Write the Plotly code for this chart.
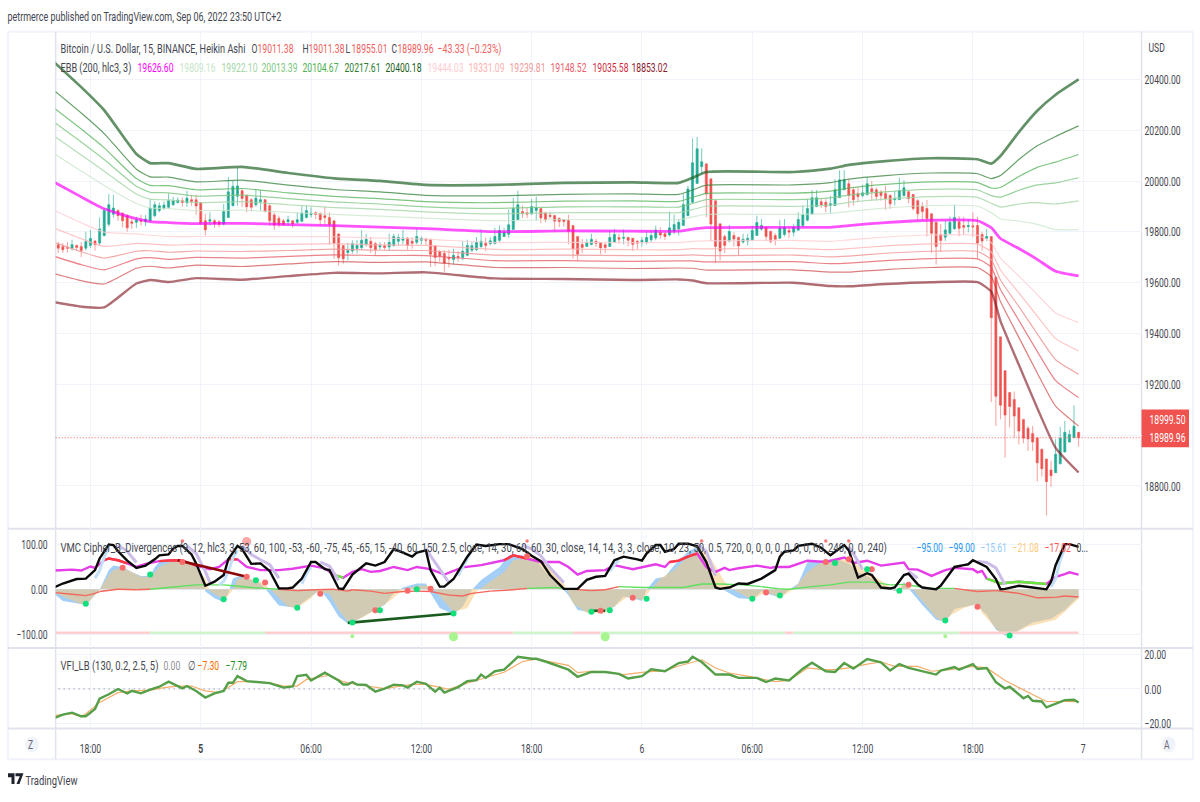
import json
import pandas as pd
import plotly.graph_objects as go

# Chart window in page pixels
W, H = 1200, 802
PLOT_L, PLOT_R = 54.7, 1141.5
START = pd.Timestamp("2022-09-04 16:15")
BAR = pd.Timedelta(minutes=15)

# Heikin Ashi candles, BTCUSD 15m
opens = [19750,19743,19739,19736,19747,19743,19736,19747,19764,19756,
19786,19830,19870,19884,19874,19864,19840,19838,19847,19840,
19844,19864,19884,19893,19897,19907,19916,19923,19915,19927,
19927,19915,19844,19842,19844,19840,19831,19857,19903,19940,
19962,19942,19927,19907,19919,19927,19903,19867,19854,19844,
19840,19844,19838,19842,19857,19868,19876,19873,19864,19857,
19844,19792,19747,19719,19725,19735,19738,19750,19763,19754,
19741,19746,19741,19747,19763,19767,19776,19763,19759,19767,
19772,19771,19745,19721,19716,19699,19691,19704,19699,19708,
19728,19730,19742,19755,19754,19754,19767,19782,19791,19810,
19849,19880,19876,19871,19884,19892,19875,19866,19865,19853,
19849,19845,19825,19782,19751,19743,19751,19763,19758,19750,
19743,19759,19778,19775,19778,19775,19763,19759,19759,19769,
19776,19798,19793,19788,19803,19812,19825,19864,19917,19991,
20057,20068,20009,19923,19832,19782,19764,19786,19778,19760,
19764,19767,19786,19811,19818,19802,19786,19775,19790,19806,
19799,19807,19825,19846,19871,19900,19919,19917,19905,19904,
19935,19966,19990,19966,19951,19943,19947,19970,19966,19956,
19951,19943,19927,19927,19943,19958,19947,19923,19900,19892,
19872,19838,19790,19779,19795,19813,19840,19825,19821,19824,
19825,19790,19775,19782,19622,19387,19254,19168,19140,19108,
19062,19027,19007,18990,18945,18906,18863,18852,18887,18934,
18973,18990,19011.38]
highs = [19760,19756,19760,19769,19750,19760,19801,19808,19769,19857,
19894,19949,19946,19890,19877,19870,19860,19860,19868,19867,
19928,19920,19916,19920,19951,19938,19936,19936,19962,19946,
19946,19916,19870,19877,19851,19847,19910,20017,20001,20052,
19968,19949,19933,19968,19964,19929,19910,19877,19864,19851,
19864,19847,19877,19903,19903,19897,19881,19877,19899,19877,
19844,19795,19747,19757,19767,19769,19806,19793,19780,19760,
19760,19760,19793,19793,19793,19808,19780,19780,19812,19782,
19777,19771,19747,19730,19728,19730,19734,19725,19763,19769,
19760,19780,19810,19777,19780,19816,19825,19816,19888,19934,
19962,19904,19894,19930,19939,19892,19880,19880,19865,19858,
19851,19868,19825,19782,19773,19773,19793,19773,19760,19760,
19806,19812,19793,19810,19782,19777,19769,19780,19803,19806,
19825,19819,19799,19880,19868,19851,19952,19982,20168,20174,
20129,20068,20009,19923,19832,19790,19828,19799,19782,19793,
19793,19825,19864,19851,19818,19806,19795,19847,19851,19819,
19832,19878,19904,19930,19965,19965,19930,19930,19943,20008,
20043,20043,20008,19975,19975,19986,20017,19999,19975,19965,
19982,19949,19962,20014,20004,19962,19949,19930,19917,19926,
19872,19838,19831,19845,19861,19907,19862,19860,19850,19877,
19860,19800,19812,19782,19622,19387,19254,19168,19172,19108,
19062,19036,19036,18990,18945,18906,18899,18984,19033,19056,
19020,19117,19011.38]
lows = [19717,19717,19718,19727,19727,19701,19727,19737,19727,19747,
19782,19821,19857,19844,19818,19801,19812,19816,19825,19822,
19838,19857,19877,19887,19890,19903,19912,19899,19899,19903,
19868,19827,19786,19825,19816,19818,19825,19857,19903,19903,
19899,19877,19881,19899,19884,19877,19825,19808,19818,19825,
19825,19816,19831,19838,19853,19857,19851,19825,19825,19750,
19694,19668,19675,19688,19715,19715,19730,19743,19717,19708,
19730,19730,19725,19741,19747,19751,19730,19734,19751,19751,
19747,19662,19665,19682,19643,19660,19673,19682,19688,19704,
19721,19725,19738,19725,19747,19751,19760,19780,19777,19810,
19848,19855,19855,19868,19845,19834,19838,19851,19806,19819,
19821,19751,19695,19688,19717,19741,19747,19741,19712,19717,
19741,19756,19754,19751,19743,19725,19730,19743,19751,19760,
19767,19773,19769,19782,19790,19786,19825,19864,19913,19991,
20027,19858,19764,19679,19688,19717,19759,19743,19708,19754,
19747,19767,19786,19806,19763,19754,19747,19773,19782,19776,
19782,19806,19821,19842,19868,19897,19894,19877,19874,19904,
19934,19965,19897,19904,19921,19936,19943,19923,19923,19923,
19887,19891,19904,19926,19939,19913,19884,19848,19848,19782,
19717,19672,19721,19764,19790,19808,19783,19790,19798,19780,
19695,19727,19764,19130,19036,19063,18911,19030,18990,18964,
18968,18938,18938,18817,18837,18684,18797,18851,18886,18932,
18971,18989,18955.01]
closes = [19736,19730,19736,19750,19739,19727,19762,19774,19750,19812,
19884,19907,19894,19864,19844,19816,19834,19848,19842,19851,
19893,19907,19903,19906,19923,19923,19925,19916,19933,19920,
19902,19835,19808,19848,19831,19829,19880,19958,19979,19981,
19932,19899,19897,19933,19927,19881,19844,19827,19829,19829,
19848,19831,19848,19874,19884,19874,19869,19848,19857,19829,
19756,19698,19694,19727,19754,19747,19767,19771,19738,19730,
19747,19739,19759,19782,19778,19776,19747,19755,19782,19775,
19767,19712,19699,19704,19678,19694,19708,19700,19724,19747,
19746,19759,19763,19747,19765,19782,19806,19799,19828,19893,
19907,19872,19870,19900,19896,19855,19849,19861,19842,19841,
19841,19803,19734,19712,19739,19759,19771,19755,19737,19739,
19778,19790,19771,19778,19767,19751,19755,19767,19778,19786,
19807,19788,19782,19816,19829,19838,19908,19969,20072,20127,
20076,19949,19831,19743,19725,19747,19802,19772,19745,19771,
19775,19806,19837,19825,19782,19763,19771,19815,19818,19799,
19818,19849,19868,19892,19935,19935,19907,19900,19911,19966,
20005,20005,19943,19927,19939,19954,19990,19958,19939,19943,
19931,19911,19932,19962,19974,19931,19892,19872,19880,19853,
19795,19743,19766,19808,19838,19857,19814,19818,19825,19820,
19756,19764,19782,19462,19153,19118,19079,19113,19075,19016,
18988,18985,18973,18891,18868,18817,18840,18925,18988,19011,
19003,19035,18989.96]

# EBB (200, hlc3, 3): bar numbers where each band was read, then the bands
ebb_bars = [-1,5,10,17,20,24,30,40,50,60,70,80,95,110,125,135,138,141,160,168,172,180,190,200,203,205,209,213,217,222]
ebb_basis = [19997,19938,19891,19852,19841,19837,19833,19834,19829,19825,19819,19813,19801,19804,19803,19803,19811,19817,19818,19818,19825,19837,19846,19844,19817,19774,19735,19692,19645,19626.60]
ebb_up1 = [20109,20040,19983,19912,19895,19892,19884,19886,19877,19869,19862,19854,19844,19849,19848,19848,19859,19869,19869,19873,19881,19894,19904,19901,19876,19851,19843,19830,19809,19809.16]
ebb_up2 = [20178,20103,20039,19949,19929,19926,19915,19919,19907,19896,19889,19879,19871,19876,19876,19876,19888,19901,19901,19906,19916,19929,19939,19936,19913,19898,19910,19915,19910,19922.10]
ebb_up3 = [20234,20154,20085,19980,19956,19954,19941,19945,19931,19918,19910,19899,19893,19899,19899,19898,19912,19927,19927,19934,19945,19958,19968,19965,19943,19937,19964,19985,19993,20013.39]
ebb_up4 = [20289,20205,20131,20010,19983,19982,19966,19971,19954,19940,19931,19919,19915,19921,19922,19920,19936,19952,19953,19961,19973,19987,19997,19994,19973,19975,20018,20054,20075,20104.67]
ebb_up5 = [20358,20268,20187,20047,20017,20016,19997,20004,19984,19967,19958,19944,19942,19948,19950,19948,19965,19984,19985,19994,20008,20022,20032,20029,20010,20022,20085,20139,20176,20217.61]
ebb_up6 = [20470,20370,20279,20107,20071,20071,20048,20056,20032,20011,20001,19985,19985,19993,19995,19993,20013,20036,20036,20049,20064,20079,20090,20086,20069,20099,20193,20277,20340,20400.18]
ebb_lo1 = [19885,19836,19799,19792,19787,19782,19782,19782,19781,19781,19776,19772,19758,19759,19758,19758,19763,19765,19767,19763,19769,19780,19788,19787,19758,19697,19627,19554,19481,19444.03]
ebb_lo2 = [19816,19773,19743,19755,19753,19748,19751,19749,19751,19754,19749,19747,19731,19732,19730,19730,19734,19733,19735,19730,19734,19745,19753,19752,19721,19650,19560,19469,19380,19331.09]
ebb_lo3 = [19760,19722,19697,19724,19726,19720,19725,19723,19727,19732,19728,19727,19709,19709,19707,19708,19710,19707,19709,19702,19705,19716,19724,19723,19691,19611,19506,19399,19297,19239.81]
ebb_lo4 = [19705,19671,19651,19694,19699,19692,19700,19697,19704,19710,19707,19707,19687,19687,19684,19686,19686,19682,19683,19675,19677,19687,19695,19694,19661,19573,19452,19330,19215,19148.52]
ebb_lo5 = [19636,19608,19595,19657,19665,19658,19669,19664,19674,19683,19680,19682,19660,19660,19656,19658,19657,19650,19651,19642,19642,19652,19660,19659,19624,19526,19385,19245,19114,19035.58]
ebb_lo6 = [19524,19506,19503,19597,19611,19603,19618,19612,19626,19639,19637,19641,19617,19615,19611,19613,19609,19598,19600,19587,19586,19595,19602,19602,19565,19449,19277,19107,18950,18853.02]

# VMC Cipher wave 1
wt1_bars = [-1,1,4,6,7,9,10,11,12,14,16,18,20,21,22,25,27,30,31,32,34,36,37,38,40,42,44,45,47,48,52,53,56,57,59,61,63,64,67,71,73,75,78,80,81,83,86,88,90,92,96,98,101,104,106,109,111,113,116,119,121,123,125,127,128,130,132,134,137,139,141,143,146,148,151,153,157,159,161,163,167,169,172,174,177,180,183,184,185,188,191,193,195,200,201,202,204,206,207,212,216,219,222]
wt1_vals = [-9,-26,-31,-35,-24,-1,21,43,53,50,39,30,30,50,61,65,65,58,39,-5,-20,-29,-9,24,32,21,13,2,-24,-36,-42,-31,-9,-1,-27,-61,-77,-74,-57,-35,-9,4,13,13,-9,-42,-56,-39,-1,21,50,76,76,65,39,10,-13,-46,-52,-48,-39,-16,-20,-26,-1,24,28,54,84,95,65,10,-9,-20,-22,-5,-19,-1,13,61,65,69,58,39,24,0,-5,17,2,-35,-68,-73,-44,-33,-48,-57,-90,-103,-103,-74,-66,-46,-15.61]

# VMC Cipher wave 2
wt2_bars = [-1,1,4,6,7,9,11,12,14,16,18,20,22,25,27,30,32,33,35,36,38,39,41,44,46,48,50,52,55,56,59,61,63,64,66,69,72,75,78,81,83,86,89,91,93,97,99,103,106,110,112,115,119,122,124,127,129,131,134,137,140,142,145,147,151,154,157,160,163,166,170,173,176,180,182,184,186,189,191,193,194,197,200,201,203,205,207,211,214,217,219,222]
wt2_vals = [-7,-16,-29,-36,-24,-1,32,43,48,39,28,28,50,64,65,50,24,-5,-16,-26,-1,24,26,17,1,-20,-39,-41,-20,-7,-9,-46,-72,-72,-64,-46,-27,-1,8,8,-16,-51,-42,-5,10,39,65,73,58,13,-31,-53,-53,-31,-16,-24,-1,24,43,73,95,69,17,-1,-24,-5,-19,0,39,61,69,61,39,13,-4,13,-1,-39,-63,-76,-59,-42,-33,-53,-76,-98,-103,-83,-76,-68,-50,-21.08]

# VMC Cipher money flow
mfi_bars = [-1,3,6,8,9,13,17,20,24,30,36,38,42,45,48,52,56,60,63,64,68,71,75,78,81,85,88,90,94,99,102,108,110,112,116,119,122,127,132,136,140,144,149,153,157,159,164,168,172,177,181,184,186,190,195,200,204,209,213,217,219,222]
mfi_vals = [-7,-11,-14,-9,-5,0,-1,0,4,10,10,8,4,2,0,-3,-1,0,-4,-1,-4,-9,-5,-4,-5,-13,-15,-9,-4,-1,2,4,2,0,-3,-1,6,4,4,4,12,12,10,6,1,0,6,10,16,16,10,11,8,2,2,-5,-3,-9,-19,-18,-15,-17.02]

# VMC Cipher RSI
rsi_bars = [-1,3,5,7,8,10,11,13,15,17,19,22,25,27,30,33,35,37,39,41,44,48,51,55,58,60,62,64,66,68,70,73,76,78,81,84,86,88,92,95,97,99,102,105,109,111,113,115,119,121,125,127,130,132,133,135,137,139,141,143,145,146,148,152,155,156,159,163,167,171,173,176,179,184,185,187,190,193,195,199,200,201,202,205,209,215,217,219,220,222]
rsi_vals = [42,44,42,51,48,65,69,65,58,50,57,63,65,64,53,45,50,67,67,50,43,43,46,53,47,32,26,39,45,39,41,50,43,50,45,33,41,49,54,61,65,76,69,61,61,50,33,41,43,54,45,50,56,50,61,64,73,80,50,39,48,43,47,53,48,50,50,64,61,71,59,64,53,60,45,44,30,43,48,45,38,41,24,13,17,12,28,34,38,33]
rsi_red_spans = [(9, 15), (20, 30), (37, 39), (96, 104), (133, 139), (162, 164), (168, 172)]
rsi_green_spans = [(60, 62), (190, 191), (202, 216)]

# VMC Cipher stochastic
stoch_bars = [-1,1,4,6,8,9,11,12,13,15,17,19,21,22,24,25,26,27,29,30,32,34,36,37,39,40,42,44,46,48,50,51,53,55,56,58,59,61,62,64,67,69,71,73,75,77,78,80,81,83,84,86,89,91,93,96,98,101,103,105,107,110,113,115,117,119,121,123,126,127,128,130,131,132,134,135,137,139,141,143,144,146,148,150,153,156,157,158,160,161,164,166,168,171,172,173,174,176,177,179,181,182,184,185,187,188,190,191,192,195,197,198,199,202,204,205,206,209,212,215,216,217,219,220,222]
stoch_vals = [4,13,23,24,43,69,100,99,85,64,48,53,67,76,78,91,97,97,78,58,8,17,32,67,97,90,57,58,41,2,2,4,24,61,61,45,43,2,1,33,58,53,61,90,82,73,82,87,43,6,6,23,73,100,97,101,101,90,75,63,32,1,1,21,28,30,65,73,67,64,80,99,99,84,90,102,102,96,61,4,1,4,13,12,24,43,73,84,87,97,102,93,76,99,87,58,26,36,32,4,2,4,32,35,11,4,2,0,8,50,54,56,65,50,23,0,1,8,4,0,17,54,101,101,95]

# Shading that trails the stochastic on its falling and rising legs
shade_fall_bars = [13,15,17,None,28,30,32,33,None,40,42,44,46,48,None,57,59,61,None,80,81,83,85,None,101,103,105,107,110,None,139,141,143,None,172,173,175,None,185,187,None,200,202,204,206]
shade_fall_vals = [99,85,60,None,97,80,40,15,None,97,78,66,55,25,None,61,52,20,None,92,75,45,15,None,99,90,75,48,15,None,102,85,30,None,95,80,45,None,40,25,None,62,60,48,10]
shade_rise_bars = [8,9,10,11,None,35,36,37,38,39,None,53,54,55,None,87,88,90,None,120,121,122,None,216,217,218,219]
shade_rise_vals = [25,42,72,92,None,10,18,40,70,88,None,12,35,50,None,30,50,88,None,40,55,65,None,5,24,65,92]

# VMC Cipher dots
dot_green_bars = [6,20,36,43,52,64,70,78,86,116,120,128,151,157,169,176,183,193,207]
dot_green_vals = [-32,33,-22,20,-41,-74,-47,0,-54,-50,-47,-21,-21,-14,59,45,-3,-70,-103]
dot_red_bars = [14,27,41,45,57,69,76,81,102,118,125,154,167,172,177,185,200]
dot_red_vals = [48,61,28,15,-10,-47,-3,1,74,-48,-19,-7,61,67,45,10,-39]
top_dot_bars = [27,102,140,167,172]
top_dot_vals = [108,108,108,108,108]
big_top_dot_bars = [41]
big_top_dot_vals = [107]
low_dot_bars = [64,193]
low_dot_vals = [-105,-105]
big_low_dot_bars = [86,119]
big_low_dot_vals = [-106,-106]

# VMC Cipher divergence lines and the state strip along the oversold level
div_bear_bars = [26, 41]
div_bear_vals = [65, 28]
div_bull_bars = [63, 86]
div_bull_vals = [-75, -54]
div_bull2_bars = [116, 119]
div_bull2_vals = [-48, -48]
strip_level = -97
strip_pink = [(-1, 20), (45, 99), (112, 118), (158, 160), (196, 222)]
strip_green = [(20, 45), (99, 112), (118, 158), (160, 196)]

# VFI_LB
vfi_bars = [-1,1,3,5,6,8,9,11,13,15,16,18,20,22,24,25,27,28,30,32,34,36,37,38,39,41,44,46,49,51,52,54,55,58,61,62,63,64,65,67,69,71,73,75,76,78,80,82,83,84,87,89,91,92,93,95,97,100,103,104,106,109,111,113,116,119,122,124,127,129,132,135,137,138,140,143,146,148,152,154,156,159,162,164,167,169,171,173,176,179,181,183,185,191,192,195,196,199,200,202,204,206,207,210,211,212,214,215,219,221,222]
vfi_vals = [-16.8,-14.7,-13.6,-15.7,-15.7,-11.5,-5.5,-3.0,0,-2.6,-1.1,-2.5,-0.4,1.3,4.2,3.0,0.4,1.7,-1.1,-4.9,-2.5,-1.1,3.6,3.6,7.4,4.5,4.0,3.4,0.8,1.5,7.4,8.1,4.9,9.4,4.9,2.6,2.6,4.0,2.6,2.3,-1.5,0.2,2.5,2.1,0.8,4.2,3.0,-1.5,0.8,-2.1,1.1,4.5,5.1,8.3,6.4,10.2,11.1,18.5,17.4,17.4,15.8,13.0,11.1,7.0,9.8,9.8,8.7,6.0,7.4,11.3,10.2,14.9,15.8,18.5,15.5,8.3,8.3,6.4,6.4,4.0,6.0,4.9,11.7,15.1,10.2,9.8,14.9,11.7,17.2,15.3,10.6,14.3,12.1,8.3,10.6,12.6,11.1,14.3,11.5,12.1,4.0,0.2,1.3,-5.3,-4.0,-6.8,-7.2,-10.6,-6.4,-6.2,-7.79]
vfi_sig_bars = [-1,3,5,6,9,11,13,16,20,23,26,29,32,35,37,39,42,46,49,52,54,59,62,64,67,71,74,77,80,83,85,88,91,94,97,101,104,106,111,113,116,119,123,128,132,135,140,143,146,150,154,156,159,163,166,169,172,176,179,182,187,190,194,199,202,206,209,212,215,219,222]
vfi_sig_vals = [-15.3,-14.2,-16.0,-14.2,-7.7,-4.9,-2.1,-1.1,-0.6,0.8,1.7,1.7,-1.1,-2.1,0.8,4.2,4.2,3.6,1.7,1.7,5.5,7.9,4.2,3.0,1.7,0.2,1.5,2.6,2.6,0.8,-0.2,2.6,4.9,7.4,9.6,15.8,17.2,16.2,13.6,9.4,10.2,9.8,8.3,9.8,10.6,13.2,16.8,12.1,9.2,7.4,5.5,4.2,4.9,12.1,11.3,11.1,12.1,14.3,15.5,13.0,13.0,10.2,11.1,13.0,12.1,4.9,0.8,-3.4,-7.2,-7.2,-7.30]

# Axis ticks
price_ticks = [20400, 20200, 20000, 19800, 19600, 19400, 19200, 19000, 18800]
price_labels = ["20400.00", "20200.00", "20000.00", "19800.00", "19600.00", "19400.00", "19200.00", "", "18800.00"]
vmc_ticks = [100, 0, -100]
vmc_labels = ["100.00", "0.00", "\u2212100.00"]
vfi_ticks = [20, 0, -20]
vfi_labels = ["20.00", "0.00", "\u221220.00"]
time_ticks = ["2022-09-04 18:00", "2022-09-05 00:00", "2022-09-05 06:00", "2022-09-05 12:00", "2022-09-05 18:00",
              "2022-09-06 00:00", "2022-09-06 06:00", "2022-09-06 12:00", "2022-09-06 18:00", "2022-09-07 00:00"]
time_labels = ["18:00", "<b>5</b>", "06:00", "12:00", "18:00", "6", "06:00", "12:00", "18:00", "7"]

last_close = closes[-1]

FONT = "Roboto, sans-serif"
INK = "#434650"
GRID = "#f0f3fa"
EDGE = "#e0e3eb"
CANDLE_UP = "#22ab94"
CANDLE_DOWN = "#f0524f"

TITLE_TEXT = "petrmerce published on TradingView.com, Sep 06, 2022 23:50 UTC+2"
SYMBOL_TEXT = "Bitcoin / U.S. Dollar, 15, BINANCE, Heikin Ashi"
CHANGE_TEXT = "\u221243.33 (\u22120.23%)"
EBB_TEXT = "EBB (200, hlc3, 3)"
VMC_TEXT = ("VMC Cipher_B_Divergences (9, 12, hlc3, 3, 53, 60, 100, -53, -60, -75, 45, -65, 15, -40, 60, 150, 2.5, close, "
            "14, 30, 60, 60, 30, close, 14, 14, 3, 3, close, 10, 23, 50, 0.5, 720, 0, 0, 0, 0, 0, 0, 0, 60, 240, 0, 0, 240)")
VFI_TEXT = "VFI_LB (130, 0.2, 2.5, 5)"
BRAND_TEXT = "TradingView"


def when(i):
    return None if i is None else START + i * BAR


def times(bars):
    return [when(i) for i in bars]


def px(x):
    return x / W


def py(y):
    return 1 - y / H


fig = go.Figure()

bar_times = [when(i) for i in range(len(opens))]
fig.add_trace(go.Candlestick(
    x=bar_times, open=opens, high=highs, low=lows, close=closes,
    increasing=dict(line=dict(color="rgba(34,171,148,0.62)", width=1), fillcolor=CANDLE_UP),
    decreasing=dict(line=dict(color="rgba(240,82,79,0.55)", width=1), fillcolor=CANDLE_DOWN),
    whiskerwidth=0, xaxis="x", yaxis="y", showlegend=False))

band_styles = [
    (ebb_up1, "rgba(200,230,201,0.75)", 1.2), (ebb_up2, "rgba(165,214,167,0.8)", 1.2),
    (ebb_up3, "rgba(129,199,132,0.8)", 1.2), (ebb_up4, "rgba(76,175,80,0.72)", 1.2),
    (ebb_up5, "rgba(46,125,50,0.72)", 1.2), (ebb_up6, "rgba(27,94,32,0.68)", 2.7),
    (ebb_lo1, "rgba(255,205,210,0.8)", 1.2), (ebb_lo2, "rgba(255,179,179,0.8)", 1.2),
    (ebb_lo3, "rgba(239,154,154,0.85)", 1.2), (ebb_lo4, "rgba(229,90,100,0.75)", 1.2),
    (ebb_lo5, "rgba(198,40,40,0.6)", 1.2), (ebb_lo6, "rgba(128,20,30,0.62)", 2.4),
    (ebb_basis, "rgba(255,0,255,0.68)", 2.8),
]
for vals, colour, width in band_styles:
    fig.add_trace(go.Scatter(x=times(ebb_bars), y=vals, mode="lines",
                             line=dict(color=colour, width=width, shape="spline", smoothing=0.5),
                             xaxis="x", yaxis="y", showlegend=False, hoverinfo="skip"))


def vmc_line(bars, vals, colour, width, mode="lines"):
    fig.add_trace(go.Scatter(x=times(bars), y=vals, mode=mode, line=dict(color=colour, width=width),
                             xaxis="x2", yaxis="y2", showlegend=False, hoverinfo="skip", connectgaps=False))


def vmc_dots(bars, vals, colour, size):
    fig.add_trace(go.Scatter(x=times(bars), y=vals, mode="markers", marker=dict(color=colour, size=size),
                             xaxis="x2", yaxis="y2", showlegend=False, hoverinfo="skip"))


def spans_of(bars, vals, spans):
    xs, ys = [], []
    for a, b in spans:
        for i, v in zip(bars, vals):
            if a <= i <= b:
                xs.append(i)
                ys.append(v)
        xs.append(None)
        ys.append(None)
    return xs, ys


# Waves are filled down to the zero line and overlap as a grey-tan
fig.add_trace(go.Scatter(x=times(wt1_bars), y=wt1_vals, mode="lines", line=dict(width=0), fill="tozeroy",
                         fillcolor="#a3cff6", xaxis="x2", yaxis="y2", showlegend=False, hoverinfo="skip"))
fig.add_trace(go.Scatter(x=times(wt2_bars), y=wt2_vals, mode="lines", line=dict(width=0), fill="tozeroy",
                         fillcolor="rgba(247,200,126,0.55)", xaxis="x2", yaxis="y2", showlegend=False, hoverinfo="skip"))

# Money flow: green above zero, red below
mfi_x_pos, mfi_y_pos, mfi_x_neg, mfi_y_neg = [], [], [], []
for k in range(len(mfi_bars) - 1):
    pair_x, pair_y = [mfi_bars[k], mfi_bars[k + 1], None], [mfi_vals[k], mfi_vals[k + 1], None]
    if min(mfi_vals[k], mfi_vals[k + 1]) >= 0:
        mfi_x_pos += pair_x
        mfi_y_pos += pair_y
    else:
        mfi_x_neg += pair_x
        mfi_y_neg += pair_y
vmc_line(mfi_x_pos, mfi_y_pos, "#5ee05e", 1.4)
vmc_line(mfi_x_neg, mfi_y_neg, "#f4665c", 1.4)

for a, b in strip_pink:
    vmc_line([a, b], [strip_level, strip_level], "#ffcfcf", 2.4)
for a, b in strip_green:
    vmc_line([a, b], [strip_level, strip_level], "#cdf5c9", 2.4)

vmc_line(rsi_bars, rsi_vals, "#e53de8", 2.4)
vmc_line(*spans_of(rsi_bars, rsi_vals, rsi_red_spans), "#fb3b3b", 2.4)
vmc_line(*spans_of(rsi_bars, rsi_vals, rsi_green_spans), "#66e83a", 2.4)

vmc_line(shade_fall_bars, shade_fall_vals, "#cbbce8", 3)
vmc_line(shade_rise_bars, shade_rise_vals, "#c4e0f9", 3)
vmc_line(stoch_bars, stoch_vals, "#0a0a0a", 2.4)

vmc_line(div_bear_bars, div_bear_vals, "#8c0606", 2.4)
vmc_line(div_bull_bars, div_bull_vals, "#1a5c1e", 2.6)
vmc_line(div_bull2_bars, div_bull2_vals, "#1a5c1e", 2.6)

vmc_dots(dot_red_bars, dot_red_vals, "#fb6a6a", 6)
vmc_dots(dot_green_bars, dot_green_vals, "#13df7c", 6)
vmc_dots(top_dot_bars, top_dot_vals, "#fb7a7a", 3.5)
vmc_dots(big_top_dot_bars, big_top_dot_vals, "#ffa6a6", 9)
vmc_dots(low_dot_bars, low_dot_vals, "#a6f58e", 4)
vmc_dots(big_low_dot_bars, big_low_dot_vals, "#a6f58e", 9)

# VFI panel
fig.add_trace(go.Scatter(x=[when(-1), when(222)], y=[0, 0], mode="lines",
                         line=dict(color="#787b86", width=1, dash="1px 4px"),
                         xaxis="x3", yaxis="y3", showlegend=False, hoverinfo="skip"))
fig.add_trace(go.Scatter(x=times(vfi_sig_bars), y=vfi_sig_vals, mode="lines", line=dict(color="#f4ad6a", width=1.2),
                         xaxis="x3", yaxis="y3", showlegend=False, hoverinfo="skip"))
fig.add_trace(go.Scatter(x=times(vfi_bars), y=vfi_vals, mode="lines", line=dict(color="#559f49", width=2.4),
                         xaxis="x3", yaxis="y3", showlegend=False, hoverinfo="skip"))

x_range = [when((PLOT_L - 57.3) / 4.6), when((PLOT_R - 57.3) / 4.6)]
x_common = dict(type="date", range=x_range, tickvals=time_ticks, ticktext=time_labels, showgrid=True,
                gridcolor=GRID, gridwidth=1, zeroline=False, showline=False, rangeslider=dict(visible=False),
                domain=[px(PLOT_L), px(PLOT_R)])
y_common = dict(showgrid=True, gridcolor=GRID, gridwidth=1, zeroline=False, showline=False, ticks="")

price_top = 20400 + (78 - 31) * 3.912
price_bot = 20400 - (530 - 78) * 3.912
vmc_top = (591 - 531) / 0.45
vmc_bot = (591 - 650) / 0.45
vfi_top = (691.3 - 651) / 1.75
vfi_bot = (691.3 - 731) / 1.75

axis_font = dict(family=FONT, size=13, color=INK)
fig.update_layout(
    width=W, height=H, autosize=False, margin=dict(l=0, r=0, t=0, b=0),
    paper_bgcolor="white", plot_bgcolor="white", showlegend=False, boxgap=0.35,
    font=dict(family=FONT, size=13, color=INK),
    xaxis=dict(x_common, anchor="y", showticklabels=False),
    xaxis2=dict(x_common, anchor="y2", showticklabels=False),
    xaxis3=dict(x_common, anchor="y3", showticklabels=True, ticks="outside", ticklen=8, tickcolor="rgba(0,0,0,0)",
                tickfont=axis_font),
    yaxis=dict(y_common, domain=[py(530), py(31)], range=[price_bot, price_top], side="right", anchor="x",
               tickvals=price_ticks, ticktext=price_labels, tickfont=axis_font, ticklabelstandoff=2),
    yaxis2=dict(y_common, domain=[py(650), py(531)], range=[vmc_bot, vmc_top], side="left", anchor="x2",
                tickvals=vmc_ticks, ticktext=vmc_labels, tickfont=axis_font, ticklabelstandoff=7),
    yaxis3=dict(y_common, domain=[py(731), py(651)], range=[vfi_bot, vfi_top], side="right", anchor="x3",
                tickvals=vfi_ticks, ticktext=vfi_labels, tickfont=axis_font, ticklabelstandoff=2),
)


def label(x, y, text, colour=INK, size=13, anchor="left"):
    fig.add_annotation(x=px(x), y=py(y), xref="paper", yref="paper", text=text, showarrow=False,
                       xanchor=anchor, yanchor="middle", align="left",
                       font=dict(family=FONT, size=size, color=colour))


RED = "#f0605e"
label(7, 15, TITLE_TEXT)
label(60, 47, SYMBOL_TEXT)
for x, head, val in [(251, "O", "19011.38"), (302, "H", "19011.38"), (345, "L", "18955.01"), (391, "C", "18989.96")]:
    label(x, 47, head)
    label(x + 6, 47, val, RED)
label(437, 47, CHANGE_TEXT, RED)

label(60, 66, EBB_TEXT)
ebb_legend = [(137, "19626.60", "#ff00ff"), (179, "19809.16", "#c8e6c9"), (221, "19922.10", "#a5d6a7"),
              (261, "20013.39", "#81c784"), (302, "20104.67", "#4caf50"), (344, "20217.61", "#2e7d32"),
              (385, "20400.18", "#1b5e20"), (427, "19444.03", "#ffcdd2"), (468, "19331.09", "#ffb3b3"),
              (509, "19239.81", "#ef9a9a"), (550, "19148.52", "#ee5f6b"), (592, "19035.58", "#d32f3f"),
              (632, "18853.02", "#8a1a2a")]
for x, text, colour in ebb_legend:
    label(x, 66, text, colour)

label(60, 549, VMC_TEXT)
for x, text, colour in [(917, "\u221295.00", "#2196f3"), (949, "\u221299.00", "#2196f3"), (981, "\u221215.61", "#90caf9"),
                        (1013, "\u221221.08", "#ffcc80"), (1045, "\u221217.02", "#ff5252"), (1077, "0...", INK)]:
    label(x, 549, text, colour)

label(60, 668, VFI_TEXT)
label(163, 668, "0.00", "#8d8f98")
label(187, 668, "\u2205")
label(197, 668, "\u22127.30", "#ff6d00")
label(225, 668, "\u22127.79", "#1b8e1b")

label(1149, 46, "USD")
label(1150, 420, "18999.50", "#ffffff")
label(1150, 438.5, "18989.96", "#ffffff")
label(31, 747, "Z", "#6a6d78", 13, "center")
label(1168.5, 747, "A", "#6a6d78", 13, "center")
label(25, 783, BRAND_TEXT, "#3f434e", 13)


def paper_line(x0, y0, x1, y1, colour=EDGE, width=2):
    fig.add_shape(type="line", xref="paper", yref="paper", x0=px(x0), y0=py(y0), x1=px(x1), y1=py(y1),
                  line=dict(color=colour, width=width), layer="below")


paper_line(7, 30, 1193, 30, GRID, 2)
paper_line(7, 762, 1193, 762, GRID, 2)
paper_line(7, 30, 7, 762, GRID, 2)
paper_line(1193, 30, 1193, 762, GRID, 2)
paper_line(7, 530, 1193, 530)
paper_line(7, 650, 1193, 650)
paper_line(7, 731, 1193, 731)
paper_line(PLOT_L, 30, PLOT_L, 762, EDGE, 1.5)
paper_line(PLOT_R, 30, PLOT_R, 762, EDGE, 1.5)

# Last price line and the two price tags
fig.add_shape(type="line", xref="paper", yref="y", x0=px(PLOT_L), x1=px(PLOT_R), y0=last_close, y1=last_close,
              line=dict(color="#f0605e", width=1, dash="1px 2px"))
fig.add_shape(type="rect", xref="paper", yref="paper", x0=px(1141.5), x1=px(1189), y0=py(448), y1=py(410),
              fillcolor="#f0524f", line=dict(width=0), layer="below")

# Round scale buttons in the time axis row
for cx in (31, 1168.5):
    fig.add_shape(type="circle", xref="paper", yref="paper", x0=px(cx - 7), x1=px(cx + 7), y0=py(755), y1=py(739),
                  fillcolor="#f0f3fa", line=dict(width=0), layer="below")

# Brand mark beside the footer wordmark
logo = "M 7 776 L 13.5 776 L 13.5 787 L 10.5 787 L 10.5 780 L 7 780 Z M 14.5 776 L 22.5 776 L 18.5 787 L 15.5 787 L 18.8 779 L 14.5 779 Z"
parts = logo.split()
path, i = [], 0
while i < len(parts):
    if parts[i] in "ML":
        path.append(f"{parts[i]} {px(float(parts[i + 1])):.5f} {py(float(parts[i + 2])):.5f}")
        i += 3
    else:
        path.append(parts[i])
        i += 1
fig.add_shape(type="path", xref="paper", yref="paper", path=" ".join(path), fillcolor="#1e222d", line=dict(width=0))

# TradingView's text runs narrow, so every label is squeezed horizontally to its drawn width
text_widths = {TITLE_TEXT: 274, SYMBOL_TEXT: 185, CHANGE_TEXT: 64, EBB_TEXT: 71, VMC_TEXT: 828, VFI_TEXT: 98,
               BRAND_TEXT: 52}
condense = """
var widths = %s;
document.querySelectorAll('.main-svg text').forEach(function (t) {
  var s = t.textContent.trim();
  if (!s) { return; }
  var box = t.getBBox();
  var full = t.getComputedTextLength();
  var k = widths[s] ? widths[s] / full : 0.66;
  if (t.closest('.annotation') && s !== 'Z' && s !== 'A') {
    t.setAttribute('x', box.x - 2.5);
    t.setAttribute('text-anchor', 'start');
    t.style.textAnchor = 'start';
  }
  var x0 = parseFloat(t.getAttribute('x')) || 0;
  var old = t.getAttribute('transform') || '';
  t.setAttribute('transform', old + ' translate(' + x0 + ',0) scale(' + k + ',1) translate(' + (-x0) + ',0)');
});
""" % json.dumps(text_widths)

fig.write_html("out.html", config=dict(displayModeBar=False), post_script=condense)
